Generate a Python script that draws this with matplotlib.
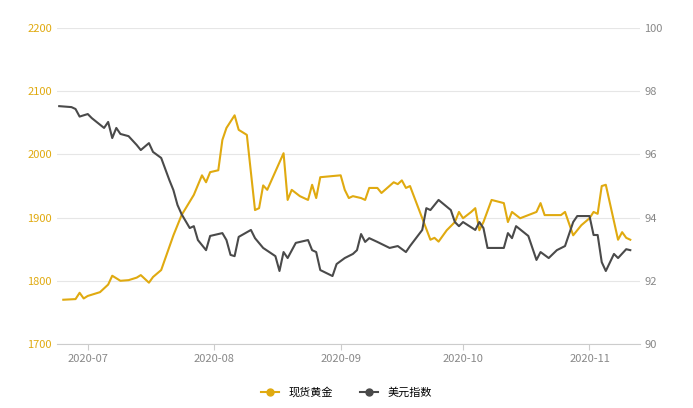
import matplotlib
matplotlib.use("Agg")
import matplotlib.pyplot as plt
import matplotlib.dates as mdates
import pandas as pd

plt.rcParams['font.family'] = ['Noto Sans CJK SC', 'DejaVu Sans']

gold_dates = ["2020-06-25", "2020-06-28", "2020-06-29", "2020-06-30", "2020-07-01", "2020-07-04",
              "2020-07-06", "2020-07-07", "2020-07-09", "2020-07-11", "2020-07-13", "2020-07-14",
              "2020-07-16", "2020-07-17", "2020-07-19", "2020-07-22", "2020-07-24", "2020-07-27",
              "2020-07-29", "2020-07-30", "2020-07-31", "2020-08-02", "2020-08-03", "2020-08-04",
              "2020-08-06", "2020-08-07", "2020-08-09", "2020-08-11", "2020-08-12", "2020-08-13",
              "2020-08-14", "2020-08-18", "2020-08-19", "2020-08-20", "2020-08-22", "2020-08-24",
              "2020-08-25", "2020-08-26", "2020-08-27", "2020-09-01", "2020-09-02", "2020-09-03",
              "2020-09-04", "2020-09-06", "2020-09-07", "2020-09-08", "2020-09-10", "2020-09-11",
              "2020-09-14", "2020-09-15", "2020-09-16", "2020-09-17", "2020-09-18", "2020-09-23",
              "2020-09-24", "2020-09-25", "2020-09-27", "2020-09-29", "2020-09-30", "2020-10-01",
              "2020-10-03", "2020-10-04", "2020-10-05", "2020-10-06", "2020-10-08", "2020-10-11",
              "2020-10-12", "2020-10-13", "2020-10-15", "2020-10-19", "2020-10-20", "2020-10-21",
              "2020-10-25", "2020-10-26", "2020-10-28", "2020-10-30", "2020-11-01", "2020-11-02",
              "2020-11-03", "2020-11-04", "2020-11-05", "2020-11-08", "2020-11-09", "2020-11-10",
              "2020-11-11"]
gold = [1770, 1771, 1781, 1772, 1776, 1782, 1794, 1808, 1800, 1801, 1805, 1809,
        1797, 1806, 1817, 1872, 1904, 1936, 1967, 1956, 1972, 1975, 2023, 2042,
        2062, 2039, 2031, 1912, 1915, 1951, 1944, 2002, 1928, 1944, 1934, 1928,
        1952, 1931, 1964, 1967, 1944, 1931, 1934, 1931, 1928, 1947, 1947, 1939,
        1956, 1953, 1959, 1947, 1950, 1865, 1868, 1862, 1880, 1893, 1909, 1899,
        1909, 1915, 1880, 1893, 1928, 1923, 1893, 1909, 1899, 1909, 1923, 1904,
        1904, 1909, 1872, 1888, 1899, 1909, 1906, 1950, 1952, 1865, 1877, 1868,
        1865]

usd_dates = ["2020-06-24", "2020-06-27", "2020-06-28", "2020-06-29", "2020-07-01", "2020-07-02",
             "2020-07-05", "2020-07-06", "2020-07-07", "2020-07-08", "2020-07-09", "2020-07-11",
             "2020-07-13", "2020-07-14", "2020-07-16", "2020-07-17", "2020-07-19", "2020-07-21",
             "2020-07-22", "2020-07-23", "2020-07-24", "2020-07-26", "2020-07-27", "2020-07-28",
             "2020-07-30", "2020-07-31", "2020-08-03", "2020-08-04", "2020-08-05", "2020-08-06",
             "2020-08-07", "2020-08-10", "2020-08-11", "2020-08-13", "2020-08-16", "2020-08-17",
             "2020-08-18", "2020-08-19", "2020-08-21", "2020-08-24", "2020-08-25", "2020-08-26",
             "2020-08-27", "2020-08-30", "2020-08-31", "2020-09-02", "2020-09-04", "2020-09-05",
             "2020-09-06", "2020-09-07", "2020-09-08", "2020-09-10", "2020-09-13", "2020-09-15",
             "2020-09-17", "2020-09-18", "2020-09-21", "2020-09-22", "2020-09-23", "2020-09-25",
             "2020-09-28", "2020-09-29", "2020-09-30", "2020-10-01", "2020-10-04", "2020-10-05",
             "2020-10-06", "2020-10-07", "2020-10-11", "2020-10-12", "2020-10-13", "2020-10-14",
             "2020-10-17", "2020-10-19", "2020-10-20", "2020-10-22", "2020-10-24", "2020-10-26",
             "2020-10-28", "2020-10-29", "2020-11-01", "2020-11-02", "2020-11-03", "2020-11-04",
             "2020-11-05", "2020-11-07", "2020-11-08", "2020-11-10", "2020-11-11"]
usd = [97.53, 97.50, 97.44, 97.20, 97.28, 97.15, 96.84, 97.03, 96.52, 96.84, 96.65, 96.58,
       96.30, 96.14, 96.36, 96.08, 95.89, 95.19, 94.87, 94.40, 94.11, 93.67, 93.73, 93.29,
       92.97, 93.42, 93.51, 93.29, 92.82, 92.78, 93.39, 93.61, 93.35, 93.04, 92.78, 92.31,
       92.91, 92.72, 93.20, 93.29, 92.97, 92.91, 92.34, 92.15, 92.53, 92.72, 92.85, 92.97,
       93.48, 93.23, 93.35, 93.23, 93.04, 93.10, 92.91, 93.10, 93.61, 94.30, 94.24, 94.56,
       94.24, 93.86, 93.73, 93.86, 93.61, 93.86, 93.67, 93.04, 93.04, 93.51, 93.35, 93.73,
       93.42, 92.66, 92.91, 92.72, 92.97, 93.10, 93.86, 94.05, 94.05, 93.45, 93.45, 92.59,
       92.31, 92.85, 92.72, 93.00, 92.97]

GOLD = "#e0aa10"
DARK = "#4a4a4a"
GREY = "#888888"

fig = plt.figure(figsize=(6.93, 4.08), dpi=100)
ax = fig.add_axes([0.082, 0.157, 0.841, 0.774])
ax2 = ax.twinx()

ax.plot(pd.to_datetime(gold_dates), gold, color=GOLD, lw=1.5, label="现货黄金")
ax2.plot(pd.to_datetime(usd_dates), usd, color=DARK, lw=1.5, label="美元指数")

ax.set_ylim(1700, 2200)
ax2.set_ylim(90, 100)
ax.set_yticks(range(1700, 2201, 100))
ax2.set_yticks(range(90, 101, 2))
ax.set_xlim(pd.Timestamp("2020-06-23 10:00"), pd.Timestamp("2020-11-13 07:00"))
ax.xaxis.set_major_locator(mdates.MonthLocator())
ax.xaxis.set_major_formatter(mdates.DateFormatter("%Y-%m"))

ax.grid(axis="y", color="#e6e6e6", lw=0.8)
ax.set_axisbelow(True)
for a in (ax, ax2):
    for s in a.spines.values():
        s.set_visible(False)
ax.spines["bottom"].set_visible(True)
ax.spines["bottom"].set_color("#cccccc")
ax.tick_params(axis="y", length=0, labelcolor=GOLD, labelsize=8)
ax2.tick_params(axis="y", length=0, labelcolor=GREY, labelsize=8)
ax.tick_params(axis="x", colors="#cccccc", labelcolor=GREY, labelsize=8, length=4)

labels = [ax.get_lines()[0].get_label(), ax2.get_lines()[0].get_label()]
leg_h = [plt.Line2D([], [], color=GOLD, marker="o", markersize=5, lw=1.5),
         plt.Line2D([], [], color=DARK, marker="o", markersize=5, lw=1.5)]
fig.legend(leg_h, labels, loc="lower center", ncol=2, frameon=False, fontsize=8,
           bbox_to_anchor=(0.5, 0.0), handlelength=1.6, columnspacing=2.5)

fig.savefig("out.png", dpi=100)
